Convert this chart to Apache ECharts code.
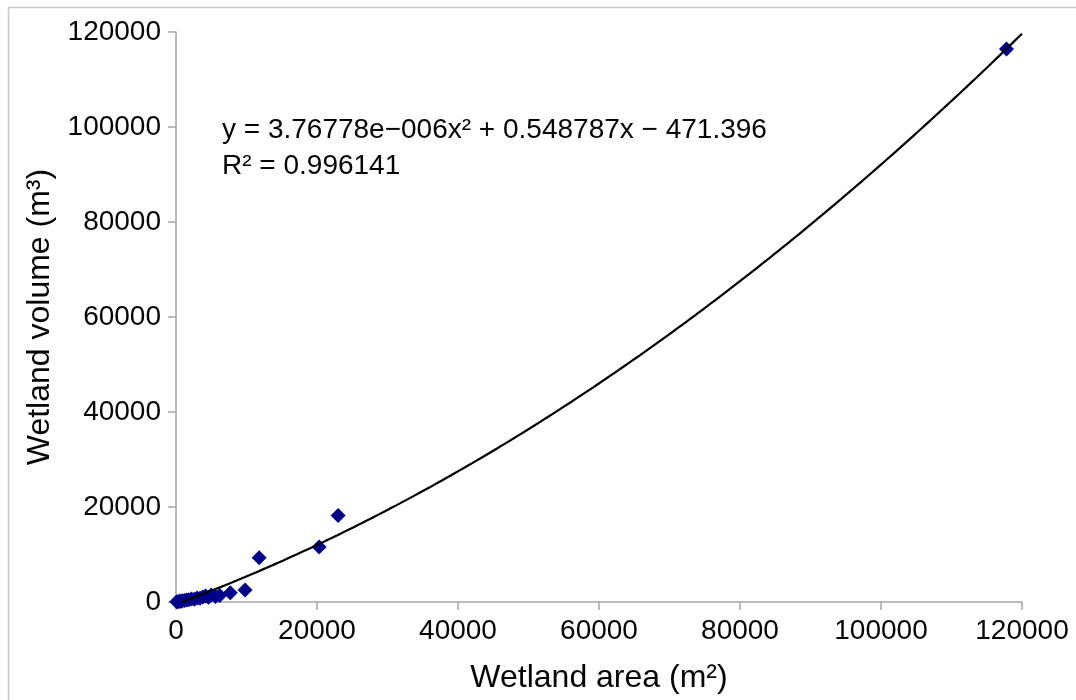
<!DOCTYPE html>
<html>
<head>
<meta charset="utf-8">
<script src="https://cdn.jsdelivr.net/npm/echarts@6/dist/echarts.min.js"></script>
<style>
  html, body { margin: 0; padding: 0; background: #ffffff; }
  #chart { width: 1076px; height: 700px; }
</style>
</head>
<body>
<div id="chart"></div>
<script>
// Wetland area (m²) vs volume (m³) for the surveyed wetlands
const areas = [100, 300, 500, 700, 900, 1200, 1500, 1800, 2200, 2600, 3000, 3400, 3800, 4200, 4600, 5000, 5600, 6200, 7700, 9800, 11800, 20300, 23000, 117800];
const volumes = [40, 60, 200, 120, 250, 300, 420, 500, 650, 600, 850, 800, 1050, 1250, 1000, 1500, 1150, 1350, 1950, 2550, 9300, 11600, 18200, 116400];

// Second-order polynomial fit reported on the chart
const fitCoeffs = [3.76778e-6, 0.548787, -471.396]; // a·x² + b·x + c
const fitRange = [850, 120000];
const fitLabel = ['y = 3.76778e\u2212006x\u00b2 + 0.548787x \u2212 471.396', 'R\u00b2 = 0.996141'];

// axis ticks
const xTicks = [0, 20000, 40000, 60000, 80000, 100000, 120000];
const yTicks = [0, 20000, 40000, 60000, 80000, 100000, 120000];

const points = areas.map((a, i) => [a, volumes[i]]);

const fitCurve = [];
const steps = 200;
for (let i = 0; i <= steps; i++) {
  const x = fitRange[0] + (fitRange[1] - fitRange[0]) * i / steps;
  fitCurve.push([x, fitCoeffs[0] * x * x + fitCoeffs[1] * x + fitCoeffs[2]]);
}

const font = 'Liberation Sans, Arial, sans-serif';
const plain = v => String(v);
const chart = echarts.init(document.getElementById('chart'));

chart.setOption({
  backgroundColor: '#ffffff',
  animation: false,
  grid: { left: 176, right: 54, top: 32, bottom: 98 },
  xAxis: {
    type: 'value',
    min: xTicks[0], max: xTicks[xTicks.length - 1], interval: xTicks[1] - xTicks[0],
    name: 'Wetland area (m\u00b2)',
    nameLocation: 'middle', nameGap: 60,
    nameTextStyle: { fontFamily: font, fontSize: 32, color: '#050505' },
    axisLine: { show: true, lineStyle: { color: '#a6a6a6', width: 1.5 } },
    axisTick: { show: true, length: 8, lineStyle: { color: '#a6a6a6', width: 1.5 } },
    axisLabel: { fontFamily: font, fontSize: 28, color: '#050505', margin: 15, formatter: plain },
    splitLine: { show: false }
  },
  yAxis: {
    type: 'value',
    min: yTicks[0], max: yTicks[yTicks.length - 1], interval: yTicks[1] - yTicks[0],
    name: 'Wetland volume (m\u00b3)',
    nameLocation: 'middle', nameGap: 120,
    nameTextStyle: { fontFamily: font, fontSize: 32, color: '#050505' },
    axisLine: { show: true, lineStyle: { color: '#a6a6a6', width: 1.5 } },
    axisTick: { show: true, length: 8, lineStyle: { color: '#a6a6a6', width: 1.5 } },
    axisLabel: { fontFamily: font, fontSize: 28, color: '#050505', margin: 15, formatter: plain },
    splitLine: { show: false }
  },
  graphic: [
    {
      type: 'rect', z: -10, silent: true,
      shape: { x: 8.5, y: 7.5, width: 1200, height: 900 },
      style: { fill: 'none', stroke: '#c8c8c8', lineWidth: 1.5 }
    },
    {
      type: 'text', left: 222, top: 112, z: 10,
      style: {
        text: fitLabel.join('\n'),
        font: '28px ' + font,
        fill: '#050505',
        lineHeight: 36
      }
    }
  ],
  series: [
    {
      type: 'line',
      data: fitCurve,
      showSymbol: false,
      smooth: false,
      clip: true,
      lineStyle: { color: '#000', width: 2.2 },
      z: 3
    },
    {
      type: 'scatter',
      data: points,
      symbol: 'diamond',
      symbolSize: [15, 15],
      itemStyle: { color: '#00008b', opacity: 1 },
      z: 2
    }
  ]
});
</script>
</body>
</html>
